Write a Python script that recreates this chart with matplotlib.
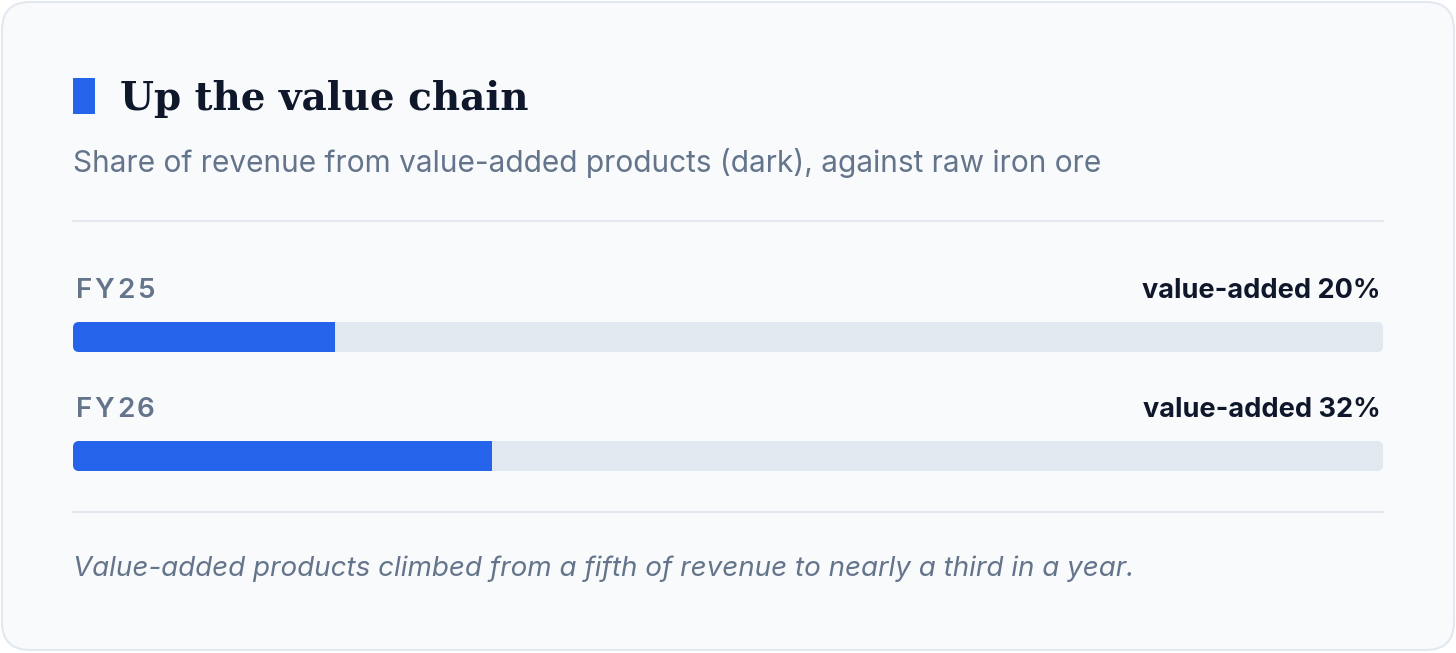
import matplotlib.pyplot as plt
from matplotlib.patches import FancyBboxPatch, Rectangle

# data
years = ["FY25", "FY26"]
value_added = [20, 32]   # % of revenue
full_scale = 100

TITLE = "Up the value chain"
SUBTITLE = "Share of revenue from value-added products (dark), against raw iron ore"
NOTE = "Value-added products climbed from a fifth of revenue to nearly a third in a year."

BLUE = "#2563eb"
TRACK = "#e2e8f0"
INK = "#0f172a"
MUTED = "#64748b"
CARD = "#f8fafc"

W, H = 1456, 653
fig = plt.figure(figsize=(W / 100, H / 100), dpi=100)
fig.patch.set_facecolor("white")

# background axes in pixel coords for card furniture
bg = fig.add_axes([0, 0, 1, 1])
bg.set_xlim(0, W)
bg.set_ylim(H, 0)
bg.axis("off")

bg.add_patch(FancyBboxPatch((2, 2), W - 4, H - 5,
                            boxstyle="round,pad=0,rounding_size=28",
                            fc=CARD, ec="#e2e8f0", lw=1.5))
bg.add_patch(Rectangle((73, 78), 22, 36, fc=BLUE, ec="none"))
bg.text(120, 110, TITLE, fontsize=28, fontweight="bold", family="DejaVu Serif",
        color=INK, va="baseline", ha="left")
bg.text(73, 172, SUBTITLE, fontsize=21.5, family="Inter", color=MUTED,
        va="baseline", ha="left")
bg.plot([73, 1383], [221, 221], color="#e2e8f0", lw=1.5)
bg.plot([73, 1383], [512, 512], color="#e2e8f0", lw=1.5)
bg.text(73, 576, NOTE, fontsize=20, family="Inter", style="italic",
        color=MUTED, va="baseline", ha="left")

# bar axes: x in percent, rows spaced 119 px apart
row_px = 119
top_px = 337 - row_px / 2
ax = fig.add_axes([73 / W, 1 - (top_px + 2 * row_px) / H, 1310 / W, 2 * row_px / H])
ax.set_xlim(0, full_scale)
ax.set_ylim(len(years) - 0.5, -0.5)
ax.axis("off")
ax.patch.set_alpha(0)

bar_h = 30 / row_px
x_px = 1310 / full_scale
aspect = (1 / row_px) / (1 / x_px)
fig.canvas.draw()
renderer = fig.canvas.get_renderer()

for i, (yr, v) in enumerate(zip(years, value_added)):
    track = FancyBboxPatch((0, i - bar_h / 2), full_scale, bar_h,
                           boxstyle="round,pad=0,rounding_size=%f" % (6 / x_px),
                           mutation_aspect=aspect, fc=TRACK, ec="none")
    ax.add_patch(track)
    bars = ax.barh([i], [v], height=bar_h, left=0, color=BLUE, edgecolor="none")
    for b in bars:
        b.set_clip_path(track)

    # year label, letter-spaced by hand
    ly = i - 39 / row_px
    xpos = 3 / x_px
    for ch in yr:
        t = ax.text(xpos, ly, ch, fontsize=20, fontweight="semibold",
                    family="Inter", color=MUTED, va="baseline", ha="left")
        wpx = t.get_window_extent(renderer).width
        xpos += (wpx + 2.5) / x_px
    ax.text(full_scale - 0.2, ly, f"value-added {v}%", fontsize=19.5,
            fontweight="bold", family="Inter", color=INK,
            va="baseline", ha="right")

fig.savefig("out.png", dpi=100, facecolor="white")
